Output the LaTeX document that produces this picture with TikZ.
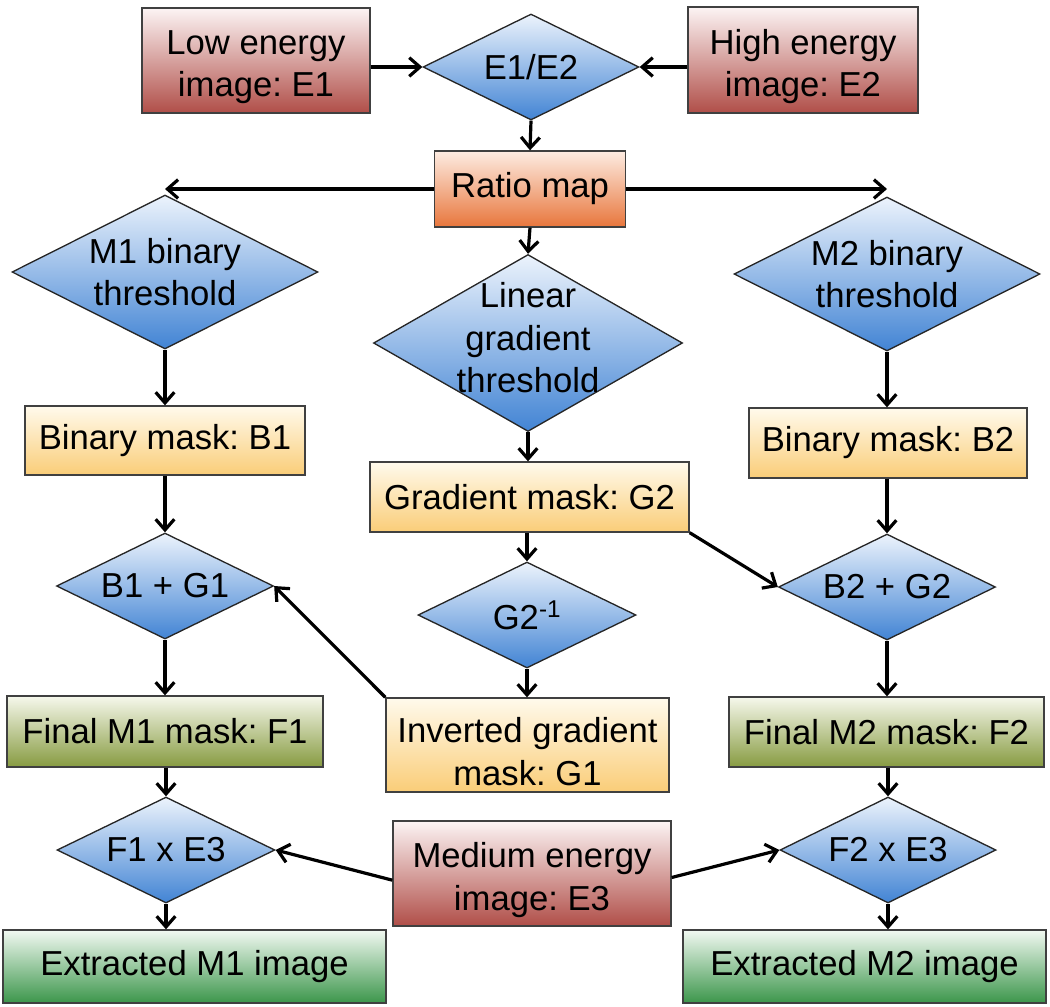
\documentclass[tikz,border=0pt]{standalone}
\usepackage{fontspec}
\setmainfont{Liberation Sans}
\usetikzlibrary{shapes.geometric,arrows.meta}
\definecolor{redtop}{RGB}{252,244,244}
\definecolor{redbot}{RGB}{176,78,72}
\definecolor{bluetop}{RGB}{236,243,252}
\definecolor{bluebot}{RGB}{66,132,212}
\definecolor{orangetop}{RGB}{253,236,226}
\definecolor{orangebot}{RGB}{232,118,60}
\definecolor{yellowtop}{RGB}{255,250,236}
\definecolor{yellowbot}{RGB}{250,205,120}
\definecolor{olivetop}{RGB}{246,248,236}
\definecolor{olivebot}{RGB}{135,155,65}
\definecolor{greentop}{RGB}{242,249,242}
\definecolor{greenbot}{RGB}{60,150,75}
\frenchspacing
\begin{document}
\begin{tikzpicture}[x=0.75pt,y=-0.75pt,
  txt/.style={font=\fontsize{26}{32}\selectfont, align=center},
  box/.style={txt, rectangle, draw=black!75, line width=1pt, inner sep=0pt},
  sz/.style 2 args={minimum width=#1*0.75pt, minimum height=#2*0.75pt},
  low/.style={label={[txt, yshift=-5pt]center:#1}},
  dia/.style={diamond, draw=black!85, line width=1pt, inner sep=0pt, top color=bluetop, bottom color=bluebot},
  redbox/.style={box, top color=redtop, bottom color=redbot},
  orangebox/.style={box, top color=orangetop, bottom color=orangebot},
  yellowbox/.style={box, top color=yellowtop, bottom color=yellowbot},
  olivebox/.style={box, top color=olivetop, bottom color=olivebot},
  greenbox/.style={box, top color=greentop, bottom color=greenbot},
  arr/.style={line width=2.4pt, -{Straight Barb[length=8pt,width=14pt]}}
]
\useasboundingbox (0,0) rectangle (1050,1007);

% boxes
\node[redbox, sz={228}{105}, low={Low energy\\image: E1}] (E1) at (256,60.5) {};
\node[redbox, sz={230}{106}, low={High energy\\image: E2}] (E2) at (803,60) {};
\node[orangebox, sz={191}{76}] (R) at (530,189) {Ratio map};
\node[yellowbox, sz={280}{69}] (B1) at (165,440.5) {Binary mask: B1};
\node[yellowbox, sz={278}{70}] (B2) at (888,443) {Binary mask: B2};
\node[yellowbox, sz={319}{70}] (G2) at (529.5,497) {Gradient mask: G2};
\node[yellowbox, sz={283}{94}, low={Inverted gradient\\mask: G1}] (G1) at (527.5,745) {};
\node[olivebox, sz={316}{71}] (F1) at (165,731.5) {Final M1 mask: F1};
\node[olivebox, sz={315}{70}] (F2) at (886.5,732) {Final M2 mask: F2};
\node[redbox, sz={278}{105}, low={Medium energy\\image: E3}] (E3) at (532,873.5) {};
\node[greenbox, sz={383}{73}] (X1) at (194.5,966.5) {Extracted M1 image};
\node[greenbox, sz={363}{73}] (X2) at (864.5,966.5) {Extracted M2 image};

% diamonds
\node[dia, sz={216}{106}, label={[txt]center:E1/E2}] (D12) at (531,67) {};
\node[dia, sz={306}{154}, label={[txt]center:M1 binary\\threshold}] (M1) at (165,272) {};
\node[dia, sz={306}{154}, label={[txt]center:M2 binary\\threshold}] (M2) at (887,274) {};
\node[dia, sz={309}{177}, label={[txt, yshift=4pt]center:Linear\\gradient\\threshold}] (L) at (528,343) {};
\node[dia, sz={218}{106}, label={[txt]center:G2\textsuperscript{-1}}] (GI) at (527,615) {};
\node[dia, sz={217}{106}, label={[txt]center:B1 + G1}] (S1) at (165,586) {};
\node[dia, sz={217}{106}, label={[txt]center:B2 + G2}] (S2) at (887,587) {};
\node[dia, sz={218}{106}, label={[txt]center:F1 x E3}] (P1) at (166,850) {};
\node[dia, sz={216}{106}, label={[txt]center:F2 x E3}] (P2) at (888,850) {};

% connectors
\draw[arr] (D12.west -| E1.east) -- (D12.west);
\draw[arr] (D12.east -| E2.west) -- (D12.east);
\draw[arr] (D12.south) -- (R.north);
\draw[arr] (R.west) -- (R.west -| M1.north);
\draw[arr] (R.east) -- (R.east -| M2.north);
\draw[arr] (R.south) -- (L.north);
\draw[arr] (M1.south) -- (B1.north);
\draw[arr] (M2.south) -- (M2.south |- B2.north);
\draw[arr] (L.south) -- (L.south |- G2.north);
\draw[arr] (B1.south) -- (S1.north);
\draw[arr] (B2.south -| S2.north) -- (S2.north);
\draw[arr] (G2.south -| GI.north) -- (GI.north);
\draw[arr] (GI.south) -- (GI.south |- G1.north);
\draw[arr] (G2.south east) -- (S2.west);
\draw[arr] (G1.north west) -- (S1.east);
\draw[arr] (S1.south) -- (S1.south |- F1.north);
\draw[arr] (S2.south) -- (S2.south |- F2.north);
\draw[arr] (F1.south -| P1.north) -- (P1.north);
\draw[arr] (F2.south -| P2.north) -- (P2.north);
\draw[arr] ([yshift=-5pt]E3.west) -- (P1.east);
\draw[arr] ([yshift=-3pt]E3.east) -- (P2.west);
\draw[arr] (P1.south) -- (P1.south |- X1.north);
\draw[arr] (P2.south) -- (P2.south |- X2.north);
\end{tikzpicture}
\end{document}
